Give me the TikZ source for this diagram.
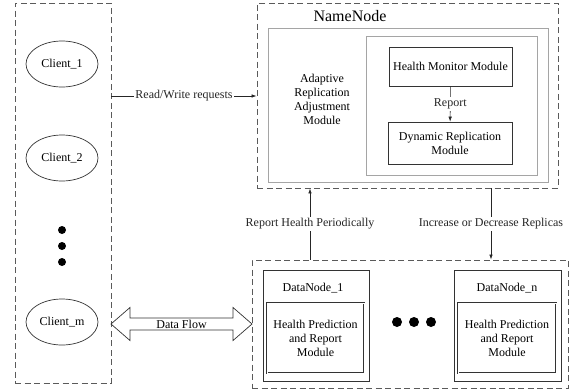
\documentclass[tikz,border=0pt]{standalone}
\usepackage{fontspec}
\setmainfont{Liberation Serif}
\usetikzlibrary{positioning, arrows.meta, shapes.geometric, shapes.arrows, calc}
\definecolor{framegray}{RGB}{90,90,90}
\definecolor{modgray}{RGB}{165,165,165}

\begin{document}
\begin{tikzpicture}[x=1pt, y=-1pt,
      every node/.style={font=\fontsize{12}{14}\selectfont},
      grp/.style={draw=framegray, line width=0.9pt, dash pattern=on 6pt off 3.5pt, inner sep=0pt},
      gbox/.style={draw=modgray, line width=1pt, inner sep=0pt},
      box/.style={draw=black!80, line width=0.7pt, inner sep=0pt, align=center},
      hpm/.style={box, double, double distance=0.9pt, line width=0.45pt},
      client/.style={ellipse, draw=black!80, line width=0.7pt, minimum width=72pt, minimum height=46pt, inner sep=0pt},
      dot/.style={circle, fill=black, inner sep=0pt, minimum size=#1},
      arr/.style={-{Latex[length=5pt, width=3.5pt]}, black!85, line width=0.6pt},
      lbl/.style={fill=white, inner sep=1.5pt},
      flow/.style={double arrow, draw=black!80, line width=0.7pt, minimum height=141pt, minimum width=33pt,
        double arrow head extend=8pt, double arrow tip angle=82, inner sep=0pt},
    ]
      \useasboundingbox (0,0) rectangle (574,389);
      % clients
      \node[grp, minimum width=96pt, minimum height=380pt] (clients) at (63,193) {};
      \node[client] (cl1) at (62,64) {Client\_1};
      \node[client] (cl2) at (62,158) {Client\_2};
      \node[client] (clm) at (62,322) {Client\_m};
      \node[dot=8pt] (cd1) at (62,230) {};
      \node[dot=8pt] (cd2) at (62,246) {};
      \node[dot=8pt] (cd3) at (62,262) {};
      % namenode
      \node[grp, minimum width=301pt, minimum height=185pt] (nn) at (407.5,95.5) {};
      \node[font=\fontsize{16}{18}\selectfont] (nntitle) at (350,16) {NameNode};
      \node[gbox, minimum width=280pt, minimum height=154pt] (arm) at (408,105) {};
      \node[gbox, minimum width=171pt, minimum height=139pt] (drm) at (451.5,105.5) {};
      \node[align=center] (armtext) at (322,99) {Adaptive\\Replication\\Adjustment\\Module};
      \node[box, minimum width=123pt, minimum height=39pt] (hmm) at (450.5,66.5) {Health Monitor Module};
      \node[box, minimum width=124pt, minimum height=42pt] (dyn) at (450,143) {Dynamic Replication\\Module};
      \draw[arr] (hmm) -- node[lbl]{Report} (dyn);
      % datanodes
      \node[grp, minimum width=316pt, minimum height=128pt] (dns) at (410,324) {};
      \node[box, minimum width=106pt, minimum height=111pt] (dn1) at (316,325.5) {};
      \node (dn1title) at (313,288) {DataNode\_1};
      \node[hpm, minimum width=97pt, minimum height=70pt] (hp1) at (315.5,338) {Health Prediction\\and Report\\Module};
      \node[box, minimum width=107pt, minimum height=111pt] (dnn) at (507.5,325.5) {};
      \node (dnntitle) at (507,288) {DataNode\_n};
      \node[hpm, minimum width=98pt, minimum height=70pt] (hpn) at (507,338) {Health Prediction\\and Report\\Module};
      \node[dot=10pt] (dd1) at (397,322) {};
      \node[dot=10pt] (dd2) at (414,322) {};
      \node[dot=10pt] (dd3) at (431,322) {};
      % connectors
      \coordinate (rw) at (0,96);
      \coordinate (rh) at (310,0);
      \coordinate (ir) at (491,0);
      \coordinate (dfl) at (0,324);
      \draw[arr] (clients.east |- rw) -- node[lbl]{Read/Write requests} (nn.west |- rw);
      \draw[arr] (dns.north -| rh) -- node[lbl]{Report Health Periodically} (nn.south -| rh);
      \draw[arr] (nn.south -| ir) -- node[lbl]{Increase or Decrease Replicas} (dns.north -| ir);
      \node[flow] (df) at ($(clients.east |- dfl)!0.5!(dns.west |- dfl)$) {Data Flow};
    \end{tikzpicture}
\end{document}
